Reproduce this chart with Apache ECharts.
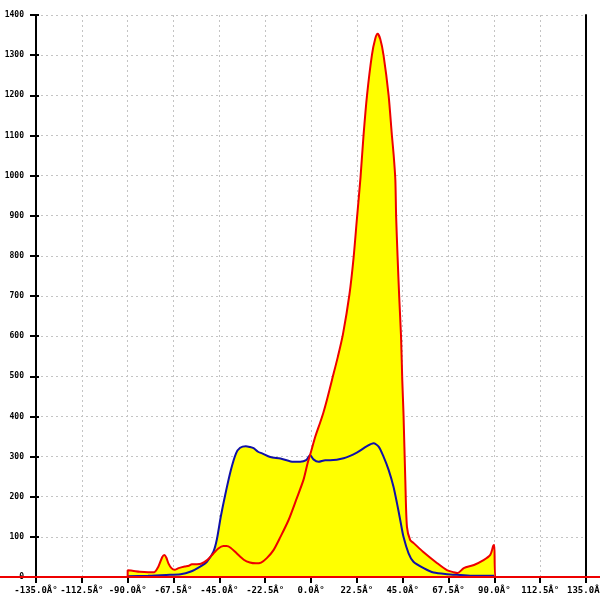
<!DOCTYPE html>
<html>
<head>
<meta charset="utf-8">
<script src="https://cdn.jsdelivr.net/npm/echarts@6/dist/echarts.min.js"></script>
<style>html,body{margin:0;padding:0;background:#fff}#c{width:600px;height:600px}</style>
</head>
<body>
<div id="c"></div>
<script>
// x ticks (degrees) and y ticks
var xTicks = [-135, -112.5, -90, -67.5, -45, -22.5, 0, 22.5, 45, 67.5, 90, 112.5, 135];
var yTicks = [0, 100, 200, 300, 400, 500, 600, 700, 800, 900, 1000, 1100, 1200, 1300, 1400];

// red series: [angle, value]
var redData = [
  [-135, 0], [-90, 0], [-90, 17], [-87, 15], [-84, 13], [-80, 12], [-77, 12], [-75, 25], [-73, 50],
  [-72, 55], [-71, 48], [-70, 34], [-68.5, 22], [-67, 18], [-65, 22], [-62, 26], [-60, 28],
  [-58.5, 32], [-56, 32], [-54, 33], [-51, 42], [-48, 58], [-45.5, 71], [-43, 77], [-41.5, 77],
  [-39.5, 73], [-36.5, 59], [-33, 43], [-30, 36], [-27, 34], [-24.5, 36], [-21.7, 47], [-18.4, 67],
  [-15, 100], [-11, 142], [-7, 196], [-3.7, 242], [-1.7, 283], [0, 312], [2, 348], [4.5, 385],
  [6.1, 410], [7.8, 441], [10.3, 491], [13.2, 549], [15.7, 605], [18.9, 705], [20.9, 795],
  [22.5, 890], [24.3, 995], [25.8, 1101], [27.5, 1200], [29.9, 1300], [31.5, 1340],
  [32.7, 1353], [34, 1340], [35.6, 1300], [38.1, 1200], [39.7, 1101], [40.6, 1050], [41.4, 990],
  [41.8, 897], [42.5, 798], [43.3, 698], [44.2, 599], [44.8, 491], [45.4, 408], [46.3, 241],
  [47.1, 125], [48.7, 92], [50.3, 85],
  [55, 63], [61.8, 35], [66.7, 17], [70, 12], [72, 10], [75, 22], [80, 30], [84.7, 42],
  [88, 55], [89.5, 78], [90, 80], [90.5, 0], [135, 0]
];
// red zero baseline, running past both ends of the plot
var redBaseline = [[-180, 0], [180, 0]];

// blue series: [angle, value]
var blueData = [
  [-90, 2], [-80, 3], [-71, 5], [-64, 7], [-59.3, 13], [-54.4, 26], [-51.1, 38], [-47.9, 63],
  [-46.2, 94], [-44.3, 150], [-42.1, 205], [-39.3, 267], [-36.8, 308], [-34.8, 322], [-32, 326],
  [-30, 324], [-28.2, 321], [-26, 312], [-24, 308], [-20, 299], [-15, 295], [-10, 288],
  [-5.3, 287], [-2.4, 291], [-0.4, 304], [1.2, 293], [3.7, 287], [7, 291], [9.4, 291],
  [16, 296], [22.5, 310], [27.5, 326], [30.7, 333], [33.2, 325], [35.6, 300], [38.1, 267],
  [40.5, 225], [42.2, 184], [43.8, 142], [45.4, 100], [47.9, 59], [50.3, 38], [55.3, 22],
  [60.2, 11], [66.7, 7], [73.3, 5], [80, 3], [90, 3]
];

var W = 600, GL = 36, GR = 14, GT = 15, GB = 23;
var xMin = xTicks[0], xMax = xTicks[xTicks.length - 1];
var perPx = (xMax - xMin) / (W - GL - GR);

var chart = echarts.init(document.getElementById('c'), null, {renderer: 'canvas'});
var gridDash = {show: true, lineStyle: {color: '#c4c4c4', type: [2, 3], width: 1}};
var labelFont = {fontFamily: 'DejaVu Sans Mono', fontWeight: 'bold', color: '#000'};
var yellow = '#ffff00';

chart.setOption({
  animation: false,
  backgroundColor: '#fff',
  grid: [
    {left: GL, right: GR, top: GT, bottom: GB, containLabel: false, outerBoundsMode: 'none'},
    {left: 0, right: 0, top: GT, bottom: GB, containLabel: false, outerBoundsMode: 'none'}
  ],
  xAxis: [
    {
      gridIndex: 0, type: 'value', min: xMin, max: xMax, interval: 22.5,
      axisLine: {show: true, onZero: false, lineStyle: {color: '#ee0000', width: 2}},
      axisTick: {show: true, length: 6, lineStyle: {color: '#000', width: 2}},
      axisLabel: Object.assign({fontSize: 9, margin: 9, hideOverlap: false, formatter: function (v) { return v.toFixed(1) + 'Â°'; }}, labelFont),
      splitLine: gridDash
    },
    {
      gridIndex: 1, type: 'value', show: false,
      min: xMin - GL * perPx, max: xMax + GR * perPx
    }
  ],
  yAxis: [
    {
      gridIndex: 0, type: 'value', min: yTicks[0], max: yTicks[yTicks.length - 1], interval: 100, position: 'left',
      axisLine: {show: true, onZero: false, lineStyle: {color: '#000', width: 2}},
      axisTick: {show: true, length: 6, lineStyle: {color: '#000', width: 2}},
      axisLabel: Object.assign({fontSize: 8, margin: 12, formatter: function (v) { return String(v); }}, labelFont),
      splitLine: gridDash
    },
    {
      gridIndex: 0, type: 'value', min: yTicks[0], max: yTicks[yTicks.length - 1], interval: 100, position: 'left',
      axisLine: {show: false, onZero: false},
      axisTick: {show: true, inside: true, length: 3, lineStyle: {color: '#000', width: 2}},
      axisLabel: {show: false}, splitLine: {show: false}
    },
    {
      gridIndex: 0, type: 'value', min: yTicks[0], max: yTicks[yTicks.length - 1], interval: 100, position: 'right',
      axisLine: {show: true, onZero: false, lineStyle: {color: '#000', width: 2}},
      axisTick: {show: false}, axisLabel: {show: false}, splitLine: {show: false}
    },
    {
      gridIndex: 1, type: 'value', show: false, min: yTicks[0], max: yTicks[yTicks.length - 1]
    }
  ],
  series: [
    {type: 'line', data: redData, symbol: 'none', smooth: 0.25,
     lineStyle: {width: 0}, areaStyle: {color: yellow, opacity: 1}, z: 2},
    {type: 'line', data: blueData, symbol: 'none', smooth: 0.25,
     lineStyle: {width: 0}, areaStyle: {color: yellow, opacity: 1}, z: 2},
    {type: 'line', data: blueData, symbol: 'none', smooth: 0.25,
     lineStyle: {width: 2, color: '#1010a8'}, z: 3},
    {type: 'line', data: redData, symbol: 'none', smooth: 0.25,
     lineStyle: {width: 2, color: '#ee0000'}, z: 4},
    {type: 'line', xAxisIndex: 1, yAxisIndex: 3, data: redBaseline, symbol: 'none',
     lineStyle: {width: 2, color: '#ee0000'}, z: 4, silent: true}
  ]
});
</script>
</body>
</html>
